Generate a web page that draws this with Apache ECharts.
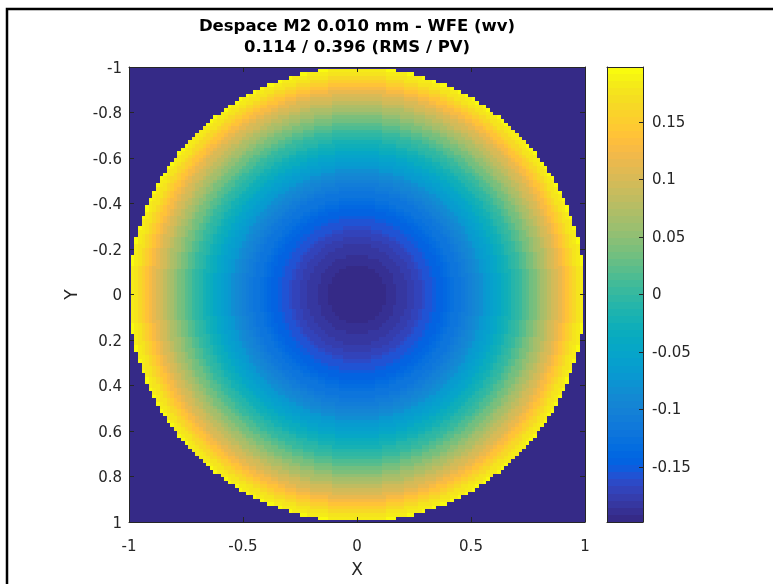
<!DOCTYPE html>
<html>
<head>
<meta charset="utf-8">
<script src="https://cdn.jsdelivr.net/npm/echarts@6/dist/echarts.min.js"></script>
<style>
html,body{margin:0;padding:0;background:#ffffff;}
#chart{width:773px;height:584px;}
</style>
</head>
<body>
<div id="chart"></div>
<script>
// ---- text ----
const titleLines = ['Despace M2 0.010 mm - WFE (wv)', '0.114 / 0.396 (RMS / PV)'];
const xAxisName = 'X';
const yAxisName = 'Y';

// ---- tick labels ----
const xTicks = [-1, -0.5, 0, 0.5, 1];
const yTicks = [-1, -0.8, -0.6, -0.4, -0.2, 0, 0.2, 0.4, 0.6, 0.8, 1];
const colorbarTicks = [-0.15, -0.1, -0.05, 0, 0.05, 0.1, 0.15];

// ---- colour scale range (waves) ----
const colorRange = [-0.198, 0.198];

// ---- sampling of the pupil: 128 x 128 samples over [-1, 1] ----
const samplesPerSide = 128;

// ---- wavefront (waves) along the central row, from the centre outwards,
//      one value per sample (64 samples per half row).
//      The map is rotationally symmetric: each sample takes the value of the
//      ring it lies in.
const radialProfile = [
  -0.1980, -0.1978, -0.1974, -0.1968, -0.1960, -0.1950, -0.1939, -0.1925,
  -0.1909, -0.1891, -0.1872, -0.1850, -0.1827, -0.1801, -0.1774, -0.1744,
  -0.1713, -0.1679, -0.1644, -0.1607, -0.1567, -0.1526, -0.1483, -0.1438,
  -0.1391, -0.1341, -0.1290, -0.1237, -0.1182, -0.1125, -0.1066, -0.1006,
  -0.0943, -0.0878, -0.0811, -0.0742, -0.0672, -0.0599, -0.0524, -0.0448,
  -0.0369, -0.0289, -0.0206, -0.0122, -0.0035,  0.0053,  0.0144,  0.0236,
   0.0330,  0.0426,  0.0525,  0.0625,  0.0727,  0.0831,  0.0937,  0.1045,
   0.1155,  0.1267,  0.1381,  0.1497,  0.1615,  0.1734,  0.1856,  0.1980
];

// ---- parula colour map (64 levels) ----
const parula = [
  '#352a87','#363093','#3637a0','#353dad','#3243ba','#2c4ac7','#2053d4','#0f5cdd',
  '#0363e1','#0268e1','#046de0','#0871de','#0d75dc','#1079da','#127dd8','#1481d6',
  '#1485d4','#1389d3','#108ed2','#0c93d2','#0998d1','#079ccf','#06a0cd','#06a4ca',
  '#06a7c6','#07a9c2','#0aacbe','#0faeb9','#16b1b4','#1db3af','#25b5aa','#2eb7a4',
  '#38b99e','#42bb98','#4dbc92','#59bd8c','#65be86','#71bf80','#7cbf7b','#87bf77',
  '#92bf73','#9cbf6f','#a5be6b','#aebe67','#b7bd64','#c0bc60','#c8bc5d','#d1bb59',
  '#d9ba56','#e1ba52','#e9b94e','#f1b94a','#f8bb44','#fdbe3d','#ffc337','#fec932',
  '#fcce2e','#fad32a','#f7d826','#f5de21','#f5e41d','#f5eb18','#f6f313','#f9fb0e'
];

// ---------------------------------------------------------------------------
const TXT = '#262626';
const FONT = 'DejaVu Sans';

// sample positions
const step = 2 / (samplesPerSide - 1);
const samplePos = [];
for (let i = 0; i < samplesPerSide; i++) samplePos.push(-1 + i * step);

// pupil samples (outside the unit circle = no data)
const mapData = [];
for (let j = 0; j < samplesPerSide; j++) {
  for (let i = 0; i < samplesPerSide; i++) {
    const x = samplePos[i], y = samplePos[j];
    const rho2 = x * x + y * y;
    if (rho2 > 1 + 1e-9) continue;
    const rCells = Math.sqrt(rho2) / step;
    let k = Math.round(rCells - 0.5);
    k = Math.max(0, Math.min(radialProfile.length - 1, k));
    mapData.push([x, y, radialProfile[k]]);
  }
}

// colour bar bands
const nLevels = parula.length;
const band = (colorRange[1] - colorRange[0]) / nLevels;
const pieces = [];
const barData = [];
for (let i = 0; i < nLevels; i++) {
  const lo = colorRange[0] + i * band, hi = lo + band;
  const p = { gte: lo, color: parula[i] };
  if (i === nLevels - 1) p.lte = hi + 1e-9; else p.lt = hi;
  if (i === 0) p.gte = lo - 1e-9;
  pieces.push(p);
  const mid = (lo + hi) / 2;
  barData.push([0.5, mid, mid]);
}

function cellRenderer(hx, hy) {
  return function (params, api) {
    const x = api.value(0), y = api.value(1);
    const a = api.coord([x - hx, y - hy]);
    const b = api.coord([x + hx, y + hy]);
    const x0 = Math.round(Math.min(a[0], b[0])), x1 = Math.round(Math.max(a[0], b[0]));
    const y0 = Math.round(Math.min(a[1], b[1])), y1 = Math.round(Math.max(a[1], b[1]));
    return {
      type: 'rect',
      shape: { x: x0, y: y0, width: x1 - x0, height: y1 - y0 },
      style: { fill: api.visual('color') }
    };
  };
}

const tickFont = { color: TXT, fontFamily: FONT, fontSize: 15 };
const lineStyle = { color: TXT, width: 1 };

const chart = echarts.init(document.getElementById('chart'), null, { renderer: 'canvas' });
chart.setOption({
  animation: false,
  backgroundColor: '#ffffff',
  graphic: [
    { type: 'rect', z: -10, shape: { x: 7, y: 9, width: 1000, height: 1000 },
      style: { fill: 'none', stroke: '#000000', lineWidth: 2.5 } },
    { type: 'text', x: 357, y: 27, z: 10,
      style: { text: titleLines[0], align: 'center', verticalAlign: 'middle',
               fill: '#000000', font: 'bold 16.5px "DejaVu Sans"' } },
    { type: 'text', x: 357, y: 48, z: 10,
      style: { text: titleLines[1], align: 'center', verticalAlign: 'middle',
               fill: '#000000', font: 'bold 16.5px "DejaVu Sans"' } }
  ],
  grid: [
    { left: 129, top: 67, width: 456, height: 455, show: true,
      backgroundColor: parula[0], borderWidth: 0 },
    { left: 607, top: 67, width: 36, height: 455, show: false }
  ],
  visualMap: [{
    type: 'piecewise', show: false, dimension: 2, seriesIndex: [0, 1],
    pieces: pieces
  }],
  xAxis: [
    { type: 'value', gridIndex: 0, min: -1, max: 1, interval: 0.5, position: 'bottom', z: 5,
      name: xAxisName, nameLocation: 'middle', nameGap: 40,
      nameTextStyle: { color: TXT, fontFamily: FONT, fontSize: 17 },
      axisLine: { show: true, onZero: false, lineStyle: lineStyle },
      axisTick: { show: true, inside: true, length: 5, lineStyle: lineStyle,
                  customValues: xTicks },
      axisLabel: { show: true, margin: 18, customValues: xTicks, ...tickFont },
      splitLine: { show: false } },
    { type: 'value', gridIndex: 0, min: -1, max: 1, interval: 0.5, position: 'top', z: 5,
      axisLine: { show: true, onZero: false, lineStyle: lineStyle },
      axisTick: { show: true, inside: true, length: 5, lineStyle: lineStyle,
                  customValues: xTicks },
      axisLabel: { show: false }, splitLine: { show: false } },
    { type: 'value', gridIndex: 1, min: 0, max: 1, position: 'bottom', z: 5,
      axisLine: { show: true, onZero: false, lineStyle: lineStyle },
      axisTick: { show: false }, axisLabel: { show: false }, splitLine: { show: false } },
    { type: 'value', gridIndex: 1, min: 0, max: 1, position: 'top', z: 5,
      axisLine: { show: true, onZero: false, lineStyle: lineStyle },
      axisTick: { show: false }, axisLabel: { show: false }, splitLine: { show: false } }
  ],
  yAxis: [
    { type: 'value', gridIndex: 0, min: -1, max: 1, interval: 0.2, inverse: true,
      position: 'left', z: 5,
      name: yAxisName, nameLocation: 'middle', nameGap: 48, nameRotate: 90,
      nameTextStyle: { color: TXT, fontFamily: FONT, fontSize: 17 },
      axisLine: { show: true, onZero: false, lineStyle: lineStyle },
      axisTick: { show: true, inside: true, length: 5, lineStyle: lineStyle,
                  customValues: yTicks },
      axisLabel: { show: true, margin: 7, verticalAlign: 'top', lineHeight: 4,
                   customValues: yTicks, ...tickFont },
      splitLine: { show: false } },
    { type: 'value', gridIndex: 0, min: -1, max: 1, interval: 0.2, inverse: true,
      position: 'right', z: 5,
      axisLine: { show: true, onZero: false, lineStyle: lineStyle },
      axisTick: { show: true, inside: true, length: 5, lineStyle: lineStyle,
                  customValues: yTicks },
      axisLabel: { show: false }, splitLine: { show: false } },
    { type: 'value', gridIndex: 1, min: colorRange[0], max: colorRange[1],
      position: 'right', z: 5,
      axisLine: { show: true, onZero: false, lineStyle: lineStyle },
      axisTick: { show: true, inside: true, length: 4, lineStyle: lineStyle,
                  customValues: colorbarTicks },
      axisLabel: { show: true, margin: 9, verticalAlign: 'top', lineHeight: 2,
                   customValues: colorbarTicks, ...tickFont },
      splitLine: { show: false } },
    { type: 'value', gridIndex: 1, min: colorRange[0], max: colorRange[1],
      position: 'left', z: 5,
      axisLine: { show: true, onZero: false, lineStyle: lineStyle },
      axisTick: { show: false }, axisLabel: { show: false }, splitLine: { show: false } }
  ],
  series: [
    { type: 'custom', name: 'WFE', xAxisIndex: 0, yAxisIndex: 0,
      clip: true, encode: { x: 0, y: 1 },
      renderItem: cellRenderer(step / 2, step / 2),
      data: mapData, z: 2 },
    { type: 'custom', name: 'colorbar', xAxisIndex: 2, yAxisIndex: 2,
      clip: true, encode: { x: 0, y: 1 },
      renderItem: cellRenderer(0.5, band / 2),
      data: barData, z: 2 }
  ]
});
</script>
</body>
</html>
